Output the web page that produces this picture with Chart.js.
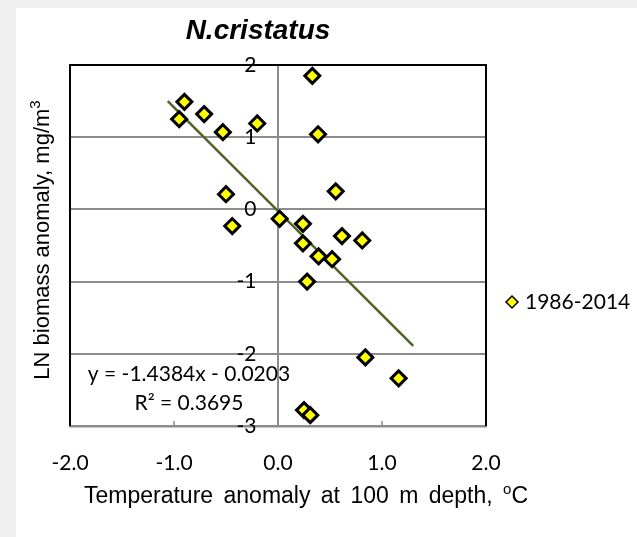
<!DOCTYPE html>
<html>
<head>
<meta charset="utf-8">
<script src="https://cdn.jsdelivr.net/npm/chart.js@4/dist/chart.umd.min.js"></script>
<style>
  body { margin: 0; background: #efefef; }
  #panel { position: absolute; left: 16px; top: 8px; width: 621px; height: 529px; background: #fff; }
</style>
</head>
<body>
<div id="panel"><canvas id="chart" width="621" height="529"></canvas></div>
<script>
  // Temperaturanomalie (x) och biomassanomalie (y), en punkt per år
  const tempAnomaly = [0.33, -0.90, -0.95, -0.71, -0.53, -0.20, 0.385, -0.50, 0.555, -0.44, 0.016,
                       0.24, 0.615, 0.81, 0.24, 0.39, 0.52, 0.28, 0.84, 1.16, 0.25, 0.31];
  const biomassAnomaly = [1.85, 1.49, 1.25, 1.32, 1.07, 1.19, 1.04, 0.21, 0.25, -0.23, -0.13,
                          -0.20, -0.37, -0.43, -0.47, -0.65, -0.69, -1.00, -2.05, -2.34, -2.78, -2.85];

  // Trendlinjens ändpunkter
  const trendX = [-1.06, 1.30];
  const trendY = [1.50, -1.89];

  const seriesLabel = '1986-2014';
  const equationText = 'y = -1.4384x - 0.0203';
  const r2Text = 'R² = 0.3695';
  const xTicks = [-2, -1, 0, 1, 2];
  const yTicks = [-3, -2, -1, 0, 1, 2];

  const GRID = '#8c8c8c';
  Chart.defaults.font.family = 'Lato';
  Chart.defaults.color = '#000';

  const points = tempAnomaly.map((x, i) => ({ x, y: biomassAnomaly[i] }));
  const trend = trendX.map((x, i) => ({ x, y: trendY[i] }));

  function diamond(ctx, x, y, r, lw) {
    ctx.beginPath();
    ctx.moveTo(x, y - r); ctx.lineTo(x + r, y); ctx.lineTo(x, y + r); ctx.lineTo(x - r, y);
    ctx.closePath();
    ctx.fillStyle = '#ffff00'; ctx.fill();
    ctx.lineWidth = lw; ctx.strokeStyle = '#000'; ctx.stroke();
  }

  // text med upphöjt tecken på slutet, centrerad kring cx
  function textWithSup(ctx, main, sup, after, cx, y, size, supSize, raise) {
    const f = s => s + 'px "Liberation Sans"';
    ctx.font = f(size); const w1 = ctx.measureText(main).width;
    ctx.font = f(supSize); const w2 = ctx.measureText(sup).width;
    ctx.font = f(size); const w3 = ctx.measureText(after).width;
    const x0 = cx - (w1 + w2 + w3) / 2;
    ctx.textAlign = 'left';
    ctx.fillText(main, x0, y);
    ctx.font = f(supSize); ctx.fillText(sup, x0 + w1, y - raise);
    ctx.font = f(size); if (after) ctx.fillText(after, x0 + w1 + w2, y);
  }

  // Ram, små tickmarkeringar och texter
  const extras = {
    id: 'extras',
    beforeDatasetsDraw(chart) {
      const { ctx, chartArea: a, scales } = chart;
      ctx.save();
      ctx.strokeStyle = GRID; ctx.lineWidth = 1.5;
      xTicks.forEach(v => {
        const px = scales.x.getPixelForValue(v);
        ctx.beginPath(); ctx.moveTo(px, a.bottom); ctx.lineTo(px, a.bottom - 5); ctx.stroke();
      });
      ctx.strokeStyle = '#000'; ctx.lineWidth = 2;
      ctx.beginPath();
      ctx.moveTo(a.left, a.bottom); ctx.lineTo(a.left, a.top); ctx.lineTo(a.right, a.top); ctx.lineTo(a.right, a.bottom);
      ctx.stroke();
      ctx.restore();
    },
    afterDraw(chart) {
      const { ctx } = chart;
      ctx.save();
      ctx.fillStyle = '#000';
      ctx.font = 'italic bold 28px "Liberation Sans"';
      ctx.textAlign = 'center'; ctx.textBaseline = 'alphabetic';
      ctx.fillText('N.cristatus', 242, 31);

      ctx.wordSpacing = '4px';
      textWithSup(ctx, 'Temperature anomaly at 100 m depth, ', 'o', 'C', 290, 495, 23, 15, 9);
      ctx.wordSpacing = '0px';

      ctx.save();
      ctx.translate(33, 232); ctx.rotate(-Math.PI / 2);
      textWithSup(ctx, 'LN biomass anomaly, mg/m', '3', '', 0, 0, 22, 15, 9);
      ctx.restore();

      ctx.textAlign = 'center';
      ctx.textBaseline = 'middle';
      ctx.font = '21px Lato';
      ctx.fillText(equationText, 173, 366);
      ctx.fillText(r2Text, 173, 395);

      diamond(ctx, 496, 294, 6, 1.5);
      ctx.fillStyle = '#000';
      ctx.textAlign = 'left';
      ctx.fillText(seriesLabel, 509, 294);
      ctx.restore();
    }
  };

  new Chart(document.getElementById('chart'), {
    data: {
      datasets: [
        {
          type: 'scatter',
          label: seriesLabel,
          data: points,
          pointStyle: 'rectRot',
          pointRadius: 7.5,
          pointBorderWidth: 3,
          pointBackgroundColor: '#ffff00',
          pointBorderColor: '#000',
          order: 1
        },
        {
          type: 'line',
          label: 'trend',
          data: trend,
          borderColor: '#4f6228',
          borderWidth: 2.5,
          pointRadius: 0,
          fill: false,
          order: 2
        }
      ]
    },
    options: {
      responsive: false,
      animation: false,
      layout: { padding: { left: 54, top: 57, right: 151, bottom: 111 } },
      plugins: { legend: { display: false }, tooltip: { enabled: false } },
      scales: {
        x: {
          type: 'linear',
          position: { y: -3 },
          min: -2, max: 2,
          afterBuildTicks: s => { s.ticks = xTicks.map(v => ({ value: v })); },
          ticks: { padding: 17, font: { size: 21 }, callback: v => v.toFixed(1) },
          grid: { display: false },
          border: { display: true, color: GRID, width: 2.5 }
        },
        y: {
          type: 'linear',
          position: { x: 0 },
          min: -3, max: 2,
          afterBuildTicks: s => { s.ticks = yTicks.map(v => ({ value: v })); },
          // axeln ligger vid x = 0, mellanslagen flyttar etiketterna bort från linjen
          ticks: { font: { size: 21 }, callback: v => v + '    ' },
          grid: { color: GRID, lineWidth: 2, drawTicks: false },
          border: { display: true, color: GRID, width: 2 }
        }
      }
    },
    plugins: [extras]
  });
</script>
</body>
</html>
